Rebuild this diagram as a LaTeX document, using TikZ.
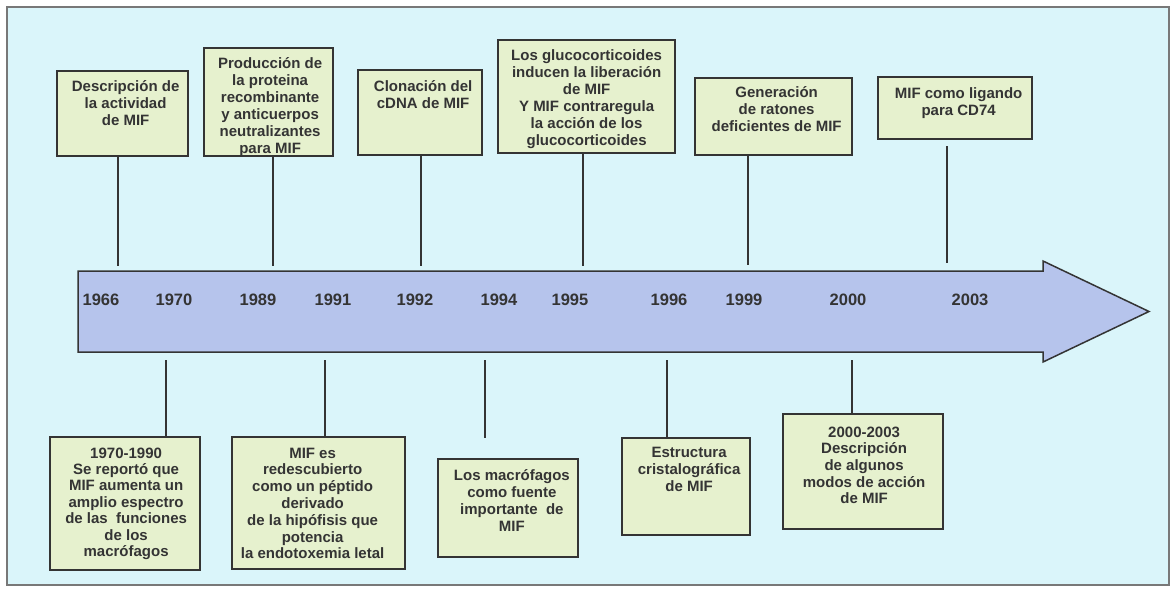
\documentclass[tikz,border=0pt]{standalone}
\usepackage{fontspec}
\setmainfont{Liberation Sans}
\usetikzlibrary{calc}
\definecolor{bgcol}{RGB}{218,245,250}
\definecolor{boxfill}{RGB}{230,241,206}
\definecolor{arrowfill}{RGB}{182,196,236}
\definecolor{inkcol}{RGB}{52,52,52}
\definecolor{framecol}{RGB}{120,120,120}
\newcommand{\evtext}[2][17]{\parbox[t]{230pt}{\centering\fontsize{15}{#1}\selectfont\bfseries #2}}
\begin{document}
\begin{tikzpicture}[x=1pt,y=-1pt,
  evbox/.style={draw=inkcol, line width=2.2pt, fill=boxfill, inner sep=0pt, anchor=north west},
  evtxt/.style={anchor=base, inner sep=0pt, text=inkcol},
  conn/.style={draw=inkcol, line width=2pt},
  yearlbl/.style={inner sep=0pt, text=inkcol, font=\fontsize{16.5}{18}\selectfont\bfseries}]
\useasboundingbox (0,0) rectangle (1171,589);
\fill[white] (0,0) rectangle (1171,589);
\draw[framecol, line width=1.2pt, fill=bgcol] (7,7) rectangle (1169,585);
% timeline arrow
\draw[inkcol, line width=1.5pt, fill=arrowfill, line join=miter]
  (78,271) -- (1043,271) -- (1043,261) -- (1149,311.5) -- (1043,362) -- (1043,352) -- (78,352) -- cycle;
% years
\node[yearlbl] (y1966) at (101,300) {1966};
\node[yearlbl] (y1970) at (174,300) {1970};
\node[yearlbl] (y1989) at (258,300) {1989};
\node[yearlbl] (y1991) at (333,300) {1991};
\node[yearlbl] (y1992) at (415,300) {1992};
\node[yearlbl] (y1994) at (499,300) {1994};
\node[yearlbl] (y1995) at (570,300) {1995};
\node[yearlbl] (y1996) at (669,300) {1996};
\node[yearlbl] (y1999) at (744,300) {1999};
\node[yearlbl] (y2000) at (848,300) {2000};
\node[yearlbl] (y2003) at (970,300) {2003};
% top boxes
\node[evbox, minimum width=131pt, minimum height=85pt] (b1) at (56,70) {};
\node[evtxt] (x1) at ($(b1.north)+(3,21.5)$) {\evtext{Descripción de\\la actividad\\de MIF}};
\node[evbox, minimum width=129pt, minimum height=108pt] (b2) at (203,47) {};
\node[evtxt] (x2) at ($(b2.north)+(1.5,21.5)$) {\evtext{Producción de\\la proteina\\recombinante\\y anticuerpos\\neutralizantes\\para MIF}};
\node[evbox, minimum width=124pt, minimum height=85pt] (b3) at (357,69) {};
\node[evtxt] (x3) at ($(b3.north)+(3,22.5)$) {\evtext{Clonación del\\cDNA de MIF}};
\node[evbox, minimum width=177pt, minimum height=113pt] (b4) at (497,39) {};
\node[evtxt] (x4) at ($(b4.north)+(0,21.5)$) {\evtext{Los glucocorticoides\\inducen la liberación\\de MIF\\Y MIF contraregula\\la acción de los\\glucocorticoides}};
\node[evbox, minimum width=157pt, minimum height=77pt] (b5) at (694,77) {};
\node[evtxt] (x5) at ($(b5.north)+(3,20.5)$) {\evtext{Generación\\de ratones\\deficientes de MIF}};
\node[evbox, minimum width=154pt, minimum height=62pt] (b6) at (877,76) {};
\node[evtxt] (x6) at ($(b6.north)+(3.5,22.5)$) {\evtext{MIF como ligando\\para CD74}};
% bottom boxes
\node[evbox, minimum width=150pt, minimum height=133pt] (b7) at (49,436) {};
\node[evtxt] (x7) at ($(b7.north)+(1,22)$) {\evtext[16.4]{1970-1990\\Se reportó que\\MIF aumenta un\\amplio espectro\\de las\ \ funciones\\de los\\macrófagos}};
\node[evbox, minimum width=173pt, minimum height=132pt] (b8) at (231,436) {};
\node[evtxt] (x8) at ($(b8.north)+(-6,22)$) {\evtext[16.8]{MIF es\\redescubierto\\como un péptido\\derivado\\de la hipófisis que\\potencia\\la endotoxemia letal}};
\node[evbox, minimum width=140pt, minimum height=98pt] (b9) at (437,458) {};
\node[evtxt] (x9) at ($(b9.north)+(3.8,22.5)$) {\evtext[16.9]{Los macrófagos\\como fuente\\importante\ \ de\\MIF}};
\node[evbox, minimum width=128pt, minimum height=97pt] (b10) at (621,437) {};
\node[evtxt] (x10) at ($(b10.north)+(3,20)$) {\evtext{Estructura\\cristalográfica\\de MIF}};
\node[evbox, minimum width=160pt, minimum height=115pt] (b11) at (782,413) {};
\node[evtxt] (x11) at ($(b11.north)+(1,24)$) {\evtext[16.7]{2000-2003\\Descripción\\de algunos\\modos de acción\\de MIF}};
% connectors, top
\coordinate (t1) at (118,266);
\coordinate (t2) at (273,266);
\coordinate (t3) at (421,266);
\coordinate (t4) at (583,266);
\coordinate (t5) at (748,265);
\coordinate (t6) at (947,263);
\draw[conn] (b1.south -| t1) -- (t1);
\draw[conn] (b2.south -| t2) -- (t2);
\draw[conn] (b3.south -| t3) -- (t3);
\draw[conn] (b4.south -| t4) -- (t4);
\draw[conn] (b5.south -| t5) -- (t5);
\draw[conn] ($(b6.south -| t6)+(0,6)$) -- (t6);
% connectors, bottom
\coordinate (s1) at (166,360);
\coordinate (s2) at (325,360);
\coordinate (s3) at (485,360);
\coordinate (s4) at (667,360);
\coordinate (s5) at (852,360);
\draw[conn] (s1) -- (b7.north -| s1);
\draw[conn] (s2) -- (b8.north -| s2);
\draw[conn] (s3) -- ($(b9.north -| s3)+(0,-20)$);
\draw[conn] (s4) -- (b10.north -| s4);
\draw[conn] (s5) -- (b11.north -| s5);
\end{tikzpicture}
\end{document}
